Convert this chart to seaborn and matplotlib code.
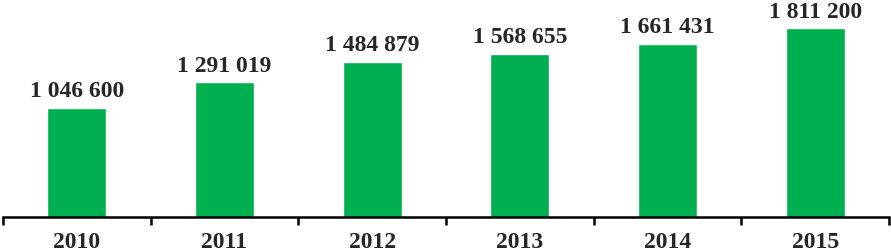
import numpy as np
import pandas as pd
import seaborn as sns
import matplotlib.pyplot as plt
from matplotlib.ticker import FixedLocator

# Werte aus dem Diagramm
years = ['2010', '2011', '2012', '2013', '2014', '2015']
values = [1046600, 1291019, 1484879, 1568655, 1661431, 1811200]
labels = ['1 046 600', '1 291 019', '1 484 879', '1 568 655', '1 661 431', '1 811 200']

df = pd.DataFrame({'year': years, 'value': values})

sns.set_style('white')
plt.rcParams['font.family'] = ['Liberation Serif', 'DejaVu Serif']

fig = plt.figure(figsize=(8.91, 2.53), dpi=100)
ax = fig.add_axes([3 / 891, 35.5 / 253, 886 / 891, 217.5 / 253])

sns.barplot(data=df, x='year', y='value', color='#00b050', width=0.4,
            saturation=1, ax=ax)

for i, (v, t) in enumerate(zip(values, labels)):
    ax.annotate(t, (i, v), xytext=(0, 5), textcoords='offset points',
                ha='center', va='bottom', fontsize=17, fontweight='bold')

ax.set_xlim(-0.5, 5.5)
ax.set_ylim(0, 2.095e6)
ax.set_xlabel('')
ax.set_ylabel('')
ax.set_yticks([])
for s in ['top', 'left', 'right']:
    ax.spines[s].set_visible(False)
ax.spines['bottom'].set_linewidth(1.8)
ax.spines['bottom'].set_color('black')

ax.xaxis.set_minor_locator(FixedLocator(np.arange(-0.5, 6, 1)))
ax.tick_params(axis='x', which='major', length=0, pad=10.5, labelsize=17)
ax.tick_params(axis='x', which='minor', length=6, width=1.8, color='black',
               direction='out', bottom=True)
for lbl in ax.get_xticklabels():
    lbl.set_fontweight('bold')

fig.savefig('out.png', dpi=100)
